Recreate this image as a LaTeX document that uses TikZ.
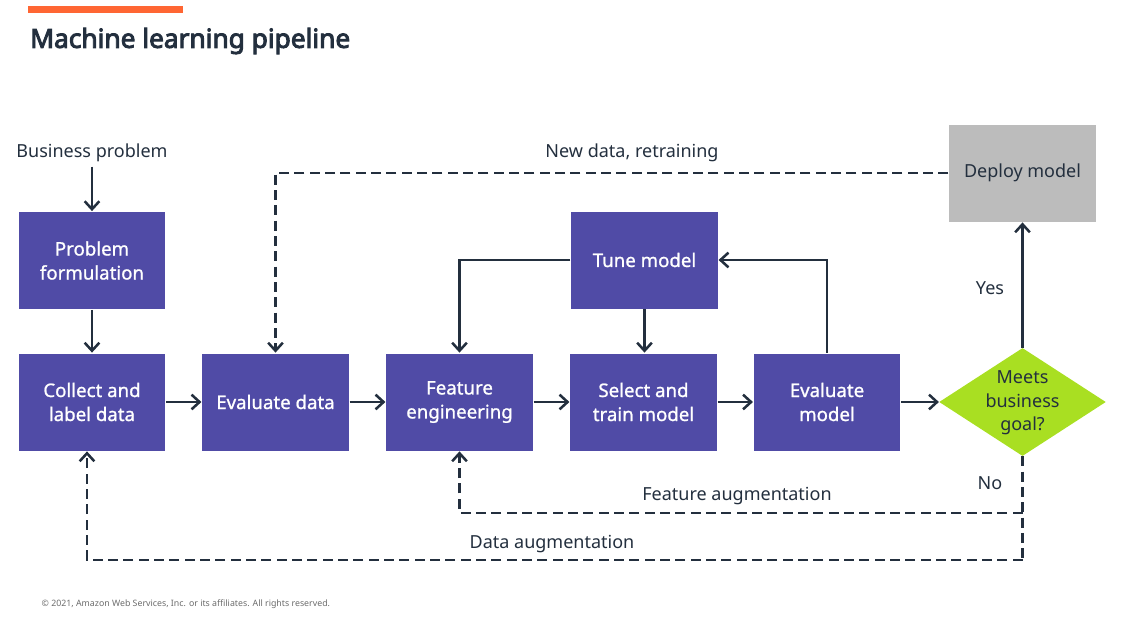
\documentclass[tikz,border=0pt]{standalone}
\usepackage{fontspec}
\setmainfont{Noto Sans}
\newfontfamily\headfont{Noto Sans}[FakeBold=3.6]
\newfontfamily\boxfont{Noto Sans}[FakeBold=1.0]
\usetikzlibrary{arrows.meta,shapes.geometric}
\definecolor{ink}{HTML}{232F3E}
\definecolor{stepfill}{HTML}{504BA6}
\definecolor{deployfill}{HTML}{BCBCBC}
\definecolor{decfill}{HTML}{A9DF22}
\definecolor{accent}{HTML}{FF6633}
\definecolor{fineprint}{HTML}{6B6B6B}
\begin{document}
\begin{tikzpicture}[x=0.75pt,y=-0.75pt,
  every node/.style={font=\fontsize{13.5}{17.5}\selectfont, text=ink},
  stepbox/.style={rectangle, fill=stepfill, draw=white, line width=0.6pt,
    minimum width=110.5pt, minimum height=73.5pt, inner sep=2pt,
    align=center, text=white, font=\boxfont\fontsize{14}{18}\selectfont},
  deploybox/.style={rectangle, fill=deployfill, draw=white, line width=0.6pt,
    minimum width=110.5pt, minimum height=73.5pt, align=center, text=ink},
  decision/.style={diamond, fill=decfill, draw=none,
    minimum width=125pt, minimum height=81pt, inner sep=0pt},
  tag/.style={align=center, text=ink},
  flow/.style={draw=ink, line width=1.9pt,
    -{Straight Barb[length=6pt,width=11pt,line width=1.9pt]}},
  plain/.style={draw=ink, line width=1.9pt},
  loop/.style={draw=ink, line width=1.9pt, dash pattern=on 7.5pt off 4pt},
  loopflow/.style={loop,
    -{Straight Barb[length=6pt,width=11pt,line width=1.9pt]}}
]
\useasboundingbox (0,0) rectangle (1128,631);

% header
\fill[accent] (28,6) rectangle (183,13);
\node[anchor=west, inner sep=0pt, font=\headfont\fontsize{19.7}{23}\selectfont] (title) at (30,41) {Machine learning pipeline};

% steps
\node[tag] (bp) at (92,153) {Business problem};
\node[stepbox] (pf) at (92,260.5) {Problem\\formulation};
\node[stepbox] (cl) at (92,402) {Collect and\\label data};
\node[stepbox] (ed) at (275.5,402) {Evaluate data};
\node[stepbox] (fe) at (459.5,402) {Feature\\engineering};
\node[stepbox] (st) at (643.5,402) {Select and\\train model};
\node[stepbox] (tm) at (644.5,260) {Tune model};
\node[stepbox] (em) at (827,402) {Evaluate\\model};
\node[decision] (dec) at (1022.5,402) {};
\node[tag] (dect) at (1022.5,403) {Meets\\business\\goal?};
\node[deploybox] (dm) at (1022.5,173) {Deploy model};

% solid connectors
\draw[flow] (bp.south) -- (pf.north);
\draw[flow] (pf.south) -- (cl.north);
\draw[flow] (cl.east) -- (ed.west);
\draw[flow] (ed.east) -- (fe.west);
\draw[flow] (fe.east) -- (st.west);
\draw[flow] (st.east) -- (em.west);
\draw[flow] (em.east) -- (dec.west);
\draw[flow] (em.north) |- (tm.east);
\draw[flow] (tm.west) -| (fe.north);
\draw[flow] (tm.south) -- (tm.south |- st.north);
\draw[flow] (dec.north) -- (dm.south);

% feedback loops
\coordinate (faug) at (1022.5,513);
\coordinate (daug) at (1022.5,560);
\draw[loopflow] (dm.west) -| (ed.north);
\draw[loop] (dec.south) -- (daug);
\draw[loopflow] (faug) -| (fe.south);
\draw[loopflow] (daug) -| ([xshift=-3.75pt]cl.south);

% labels
\node[tag] (yes) at (990,288) {Yes};
\node[tag] (no) at (990,483) {No};
\node[tag] (newdata) at (632,153) {New data, retraining};
\node[tag] (fatext) at (737,496) {Feature augmentation};
\node[tag] (datext) at (552,544) {Data augmentation};

% footer
\node[anchor=west, font=\fontsize{6.6}{8}\selectfont, text=fineprint] (copy) at (37,604)
  {© 2021, Amazon Web Services, Inc. or its affiliates. All rights reserved.};
\end{tikzpicture}
\end{document}
